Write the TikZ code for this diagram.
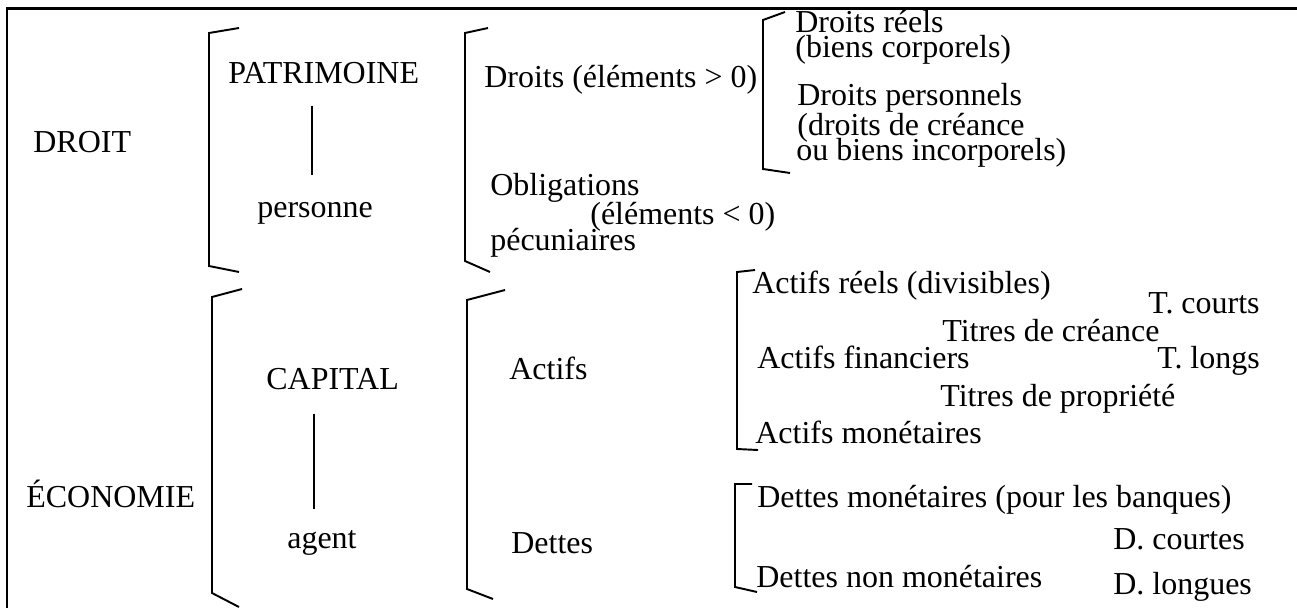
\documentclass[tikz,border=0pt]{standalone}
\usepackage{fontspec}
\setmainfont{Liberation Serif}
\usetikzlibrary{calc}
\tikzset{>=latex}
\tikzstyle{lbl}=[anchor=base west,inner sep=0pt,font=\fontsize{18.2}{22}\selectfont]
\tikzstyle{brace}=[line width=1.1pt,line join=miter]
\tikzstyle{frame}=[line width=1.7pt]
\tikzstyle{link}=[line width=1.1pt]

\begin{document}
\begin{tikzpicture}[x=0.02cm,y=-0.02cm]
	\useasboundingbox (0,0) rectangle (1297,608);
	\draw[frame] (1297,8.5) -- (7,8.5) -- (7,608);
	
	% left column
	\node[lbl] (droit) at (33,153) {DROIT};
	\node[lbl] (econ) at (26,507) {ÉCONOMIE};
	
	\draw[brace] (239,28) -- (209,33) -- (209,266) -- (239,272);
	\draw[brace] (242,289) -- (212,297) -- (212,593) -- (239,607);
	
	\node[lbl] (patri) at (228,84) {PATRIMOINE};
	\node[lbl] (pers) at (257,217) {personne};
	\node[lbl] (capital) at (266,389) {CAPITAL};
	\node[lbl] (agent) at (287,548) {agent};
	
	\draw[link, shorten <=0.42cm, shorten >=0.54cm] ([xshift=-0.06cm]patri.south -| pers.north) -- ([xshift=-0.06cm]pers.north);
	\draw[link, shorten <=0.48cm, shorten >=0.42cm] ([xshift=-0.16cm]capital.south -| agent.north) -- ([xshift=-0.16cm]agent.north);
	
	% middle column
	\draw[brace] (488,28) -- (465,33) -- (465,261) -- (490,272);
	\draw[brace] (505,290) -- (467,300) -- (467,589) -- (493,599);
	
	\node[lbl] (droits) at (484,88) {Droits (éléments > 0)};
	\node[lbl] (oblig) at (490,195) {Obligations};
	\node[lbl] (elneg) at (590,224) {(éléments < 0)};
	\node[lbl] (pecun) at (490,250) {pécuniaires};
	\node[lbl] (actifs) at (509,379) {Actifs};
	\node[lbl] (dettes) at (511,553) {Dettes};
	
	% right column
	\draw[brace] (785,12) -- (763,20) -- (763,169) -- (790,173);
	\draw[brace] (755,270) -- (737,272) -- (737,449) -- (758,450);
	\draw[brace] (752,484) -- (735,484) -- (735,587) -- (757,592);
	
	\node[lbl] (dreels) at (795,33) {Droits réels};
	\node[lbl] (bcorp) at (795,58) {(biens corporels)};
	\node[lbl] (dpers) at (797,106) {Droits personnels};
	\node[lbl] (dcrea) at (797,135) {(droits de créance};
	\node[lbl] (bincorp) at (796,160) {ou biens incorporels)};
	
	\node[lbl] (areels) at (752,293) {Actifs réels (divisibles)};
	\node[lbl] (afin) at (757,368) {Actifs financiers};
	\node[lbl] (amon) at (755,443) {Actifs monétaires};
	\node[lbl] (tcrea) at (942,341) {Titres de créance};
	\node[lbl] (tprop) at (940,406) {Titres de propriété};
	\node[lbl] (tcourts) at (1148,313) {T. courts};
	\node[lbl] (tlongs) at (1157,368) {T. longs};
	
	\node[lbl] (dmon) at (757,507) {Dettes monétaires (pour les banques)};
	\node[lbl] (dnonmon) at (756,587) {Dettes non monétaires};
	\node[lbl] (dcourtes) at (1113,549) {D. courtes};
	\node[lbl] (dlongues) at (1113,594) {D. longues};
\end{tikzpicture}
\end{document}
